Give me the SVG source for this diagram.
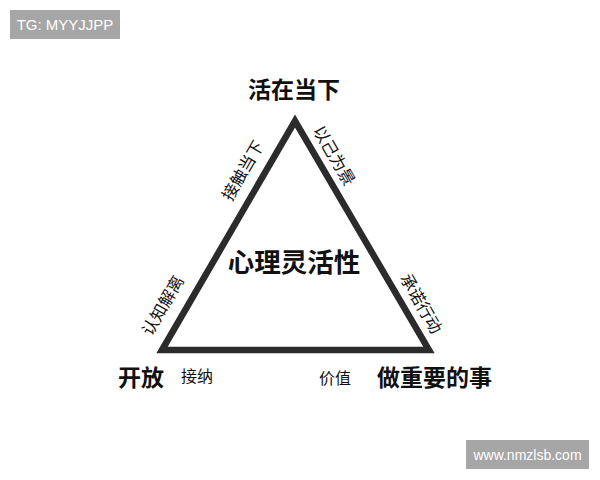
<svg xmlns="http://www.w3.org/2000/svg" width="600" height="480" viewBox="0 0 600 480">
<style>
text{font-family:"Noto Sans CJK SC","Liberation Sans",sans-serif;fill:#111}
.big{font-size:23px;font-weight:bold}
.mid{font-size:16px}
.side{font-size:16.5px}
.tag{font-family:"Liberation Sans","DejaVu Sans",sans-serif;fill:#fff}
</style>
<rect width="600" height="480" fill="#fff"/>
<g id="tag-tl"><rect x="10" y="10" width="110" height="29" fill="#a6a6a6"/><text class="tag" x="65" y="30" text-anchor="middle" style="font-size:15px">TG: MYYJJPP</text></g>
<g id="tag-br"><rect x="466" y="440" width="123" height="29" fill="#a6a6a6"/><text class="tag" x="527.5" y="459.5" text-anchor="middle" style="font-size:14px">www.nmzlsb.com</text></g>
<g id="connectors"><polygon points="162,350 295,121 429,350" fill="none" stroke="#2b2b2b" stroke-width="6.5" stroke-linejoin="miter"/></g>
<g id="n-top"><text class="big" x="294" y="98" text-anchor="middle">活在当下</text></g>
<g id="n-center"><text x="294" y="272" text-anchor="middle" style="font-size:26.5px;font-weight:bold">心理灵活性</text></g>
<g id="n-left"><text class="big" x="141" y="386" text-anchor="middle">开放</text></g>
<g id="n-right"><text class="big" x="434.5" y="386" text-anchor="middle">做重要的事</text></g>
<g id="l-accept"><text class="mid" x="197" y="382" text-anchor="middle">接纳</text></g>
<g id="l-value"><text class="mid" x="335" y="384" text-anchor="middle">价值</text></g>
<g id="l-contact"><text class="side" text-anchor="middle" dominant-baseline="central" transform="translate(242,170) rotate(-60)">接触当下</text></g>
<g id="l-self"><text class="side" text-anchor="middle" dominant-baseline="central" transform="translate(335,155) rotate(60)">以己为景</text></g>
<g id="l-defusion"><text class="side" text-anchor="middle" dominant-baseline="central" transform="translate(162,305) rotate(-60)">认知解离</text></g>
<g id="l-commit"><text class="side" text-anchor="middle" dominant-baseline="central" transform="translate(422,303) rotate(60)">承诺行动</text></g>
</svg>
